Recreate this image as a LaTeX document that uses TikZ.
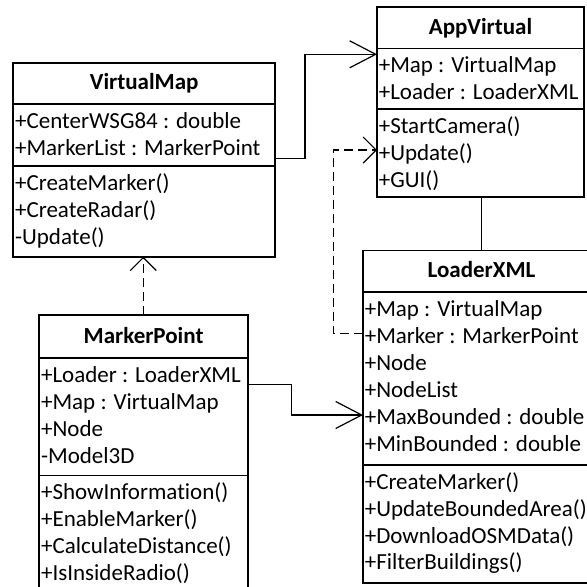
\documentclass[tikz,border=0pt]{standalone}
\usepackage{fontspec}
\setmainfont{Carlito}[Ligatures={NoCommon,NoRare}]
\usetikzlibrary{arrows.meta}
\begin{document}
\begin{tikzpicture}[x=1pt,y=-1pt,
  classbox/.style={draw, line width=1.8pt, inner sep=0pt, outer sep=0pt, anchor=north west},
  sepline/.style={line width=1.8pt},
  member/.style={anchor=base west, inner xsep=1.6pt, inner ysep=0pt, font=\fontsize{23}{27}\selectfont},
  classtitle/.style={anchor=base, inner sep=0pt, font=\fontsize{23}{27}\selectfont\bfseries},
  assoc/.style={line width=1.2pt, -{Straight Barb[length=26pt,width=27pt]}},
  depend/.style={line width=1.2pt, dash pattern=on 9pt off 5pt, -{Straight Barb[length=13pt,width=26pt]}},
  link/.style={line width=1.2pt},
]
\clip (0,0) rectangle (587,587);
\fill[white] (0,0) rectangle (587,587);

% ---- VirtualMap ----
\node[classbox, minimum width=261.7pt, minimum height=193.4pt] (vm) at (13.3,63.3) {};
\draw[sepline] (vm.west |- 0,104) -- (vm.east |- 0,104);
\draw[sepline] (vm.west |- 0,166) -- (vm.east |- 0,166);
\node[classtitle] (vm-t) at (144.2,89.5) {VirtualMap};
\foreach \t [count=\i from 0] in {+CenterWSG84 : double, +MarkerList : MarkerPoint}
  \node[member] (vm-a\i) at (13.3,128.5+27*\i) {\t};
\foreach \t [count=\i from 0] in {+CreateMarker(), +CreateRadar(), -Update()}
  \node[member] (vm-m\i) at (13.3,190.5+27*\i) {\t};

% ---- AppVirtual ----
\node[classbox, minimum width=207pt, minimum height=189.7pt] (av) at (377,7) {};
\draw[sepline] (av.west |- 0,48.5) -- (av.east |- 0,48.5);
\draw[sepline] (av.west |- 0,109) -- (av.east |- 0,109);
\node[classtitle] (av-t) at (480.5,34) {AppVirtual};
\foreach \t [count=\i from 0] in {+Map : VirtualMap, +Loader : LoaderXML}
  \node[member] (av-a\i) at (377,72.5+27*\i) {\t};
\foreach \t [count=\i from 0] in {+StartCamera(), +Update(), +GUI()}
  \node[member] (av-m\i) at (377,133+27*\i) {\t};

% ---- LoaderXML ----
\node[classbox, minimum width=237pt, minimum height=332.2pt] (lx) at (363,250.5) {};
\draw[sepline] (lx.west |- 0,292) -- (lx.east |- 0,292);
\draw[sepline] (lx.west |- 0,465) -- (lx.east |- 0,465);
\node[classtitle] (lx-t) at (481.5,277.5) {LoaderXML};
\foreach \t [count=\i from 0] in {+Map : VirtualMap, +Marker : MarkerPoint, +Node, +NodeList,
    +MaxBounded : double, +MinBounded : double}
  \node[member] (lx-a\i) at (363,316.5+27*\i) {\t};
\foreach \t [count=\i from 0] in {+CreateMarker(), +UpdateBoundedArea(), +DownloadOSMData(), +FilterBuildings()}
  \node[member] (lx-m\i) at (363,489.5+26.8*\i) {\t};

% ---- MarkerPoint ----
\node[classbox, minimum width=208.7pt, minimum height=300pt] (mp) at (39.3,315) {};
\draw[sepline] (mp.west |- 0,358) -- (mp.east |- 0,358);
\draw[sepline] (mp.west |- 0,475.5) -- (mp.east |- 0,475.5);
\node[classtitle] (mp-t) at (143.6,343.5) {MarkerPoint};
\foreach \t [count=\i from 0] in {+Loader : LoaderXML, +Map : VirtualMap, +Node, -Model3D}
  \node[member] (mp-a\i) at (39.3,382.5+27*\i) {\t};
\foreach \t [count=\i from 0] in {+ShowInformation(), +EnableMarker(), +CalculateDistance(), +IsInsideRadio()}
  \node[member] (mp-m\i) at (39.3,499.5+27*\i) {\t};

% ---- relations ----
\coordinate (bend-a) at (305,158.3);
\coordinate (bend-b) at (305,54.3);
\draw[assoc] (vm.east |- bend-a) -- (bend-a) -- (bend-b) -- (av.west |- bend-b);

\coordinate (bend-c) at (291.7,384.3);
\coordinate (bend-d) at (291.7,415);
\draw[assoc] (mp.east |- bend-c) -- (bend-c) -- (bend-d) -- (lx.west |- bend-d);

\coordinate (bend-e) at (333.3,333.3);
\coordinate (bend-f) at (333.3,150);
\draw[depend] (lx.west |- bend-e) -- (bend-e) -- (bend-f) -- (av.west |- bend-f);

\coordinate (mp-top) at (143.3,315);
\draw[depend] (mp-top) -- (vm.south -| mp-top);

\coordinate (av-bot) at (481.7,196.7);
\draw[link] (av-bot) -- (lx.north -| av-bot);
\end{tikzpicture}
\end{document}
